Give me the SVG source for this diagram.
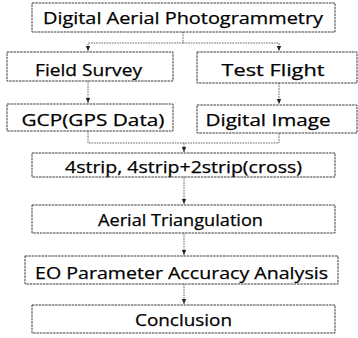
<svg xmlns="http://www.w3.org/2000/svg" width="358" height="338" viewBox="0 0 358 338">
  <style>
    .box { fill: #ffffff; stroke: #3a3a3a; stroke-width: 1; stroke-dasharray: 2.5 0.8; }
    .lbl { font-family: "Open Sans", "Noto Sans", sans-serif; font-size: 17px; fill: #000000; text-anchor: middle; stroke: #000000; stroke-width: 0.25; }
    .wire { fill: none; stroke: #555555; stroke-width: 0.9; stroke-dasharray: 1.6 1; }
  </style>
  <defs>
    <marker id="arrow" markerWidth="6" markerHeight="6" refX="5" refY="3" orient="auto" markerUnits="userSpaceOnUse">
      <path d="M0,0.8 L5,3 L0,5.2 Z" fill="#222222"/>
    </marker>
  </defs>
  <rect width="358" height="338" fill="#ffffff"/>

  <!-- connectors -->
  <g id="connectors">
    <path class="wire" d="M183,32 V43 H88 V51" marker-end="url(#arrow)"/>
    <path class="wire" d="M183,43 H279 V51" marker-end="url(#arrow)"/>
    <path class="wire" d="M88,81 V103" marker-end="url(#arrow)"/>
    <path class="wire" d="M279,83 V104" marker-end="url(#arrow)"/>
    <path class="wire" d="M88,131 V143 H279 V133"/>
    <path class="wire" d="M184,143 V152" marker-end="url(#arrow)"/>
    <path class="wire" d="M184,177 V204" marker-end="url(#arrow)"/>
    <path class="wire" d="M184,233 V255" marker-end="url(#arrow)"/>
    <path class="wire" d="M184,284 V304" marker-end="url(#arrow)"/>
  </g>

  <g id="photogrammetry">
    <rect class="box" x="32" y="3" width="303" height="29"/>
    <text class="lbl" x="183" y="24" textLength="280" lengthAdjust="spacingAndGlyphs">Digital Aerial Photogrammetry</text>
  </g>

  <g id="field-survey">
    <rect class="box" x="7" y="52" width="166" height="29"/>
    <text class="lbl" x="88.5" y="76" textLength="107" lengthAdjust="spacingAndGlyphs">Field Survey</text>
  </g>

  <g id="test-flight">
    <rect class="box" x="197" y="52" width="160" height="31"/>
    <text class="lbl" x="273" y="76" textLength="103" lengthAdjust="spacingAndGlyphs">Test Flight</text>
  </g>

  <g id="gcp">
    <rect class="box" x="7" y="104" width="166" height="27"/>
    <text class="lbl" x="93" y="126" textLength="143" lengthAdjust="spacingAndGlyphs">GCP(GPS Data)</text>
  </g>

  <g id="digital-image">
    <rect class="box" x="197" y="105" width="160" height="28"/>
    <text class="lbl" x="268" y="126" textLength="125" lengthAdjust="spacingAndGlyphs">Digital Image</text>
  </g>

  <g id="strips">
    <rect class="box" x="32" y="153" width="303" height="24"/>
    <text class="lbl" x="183.5" y="173" textLength="237" lengthAdjust="spacingAndGlyphs">4strip, 4strip+2strip(cross)</text>
  </g>

  <g id="triangulation">
    <rect class="box" x="32" y="205" width="303" height="28"/>
    <text class="lbl" x="180.5" y="226" textLength="165" lengthAdjust="spacingAndGlyphs">Aerial Triangulation</text>
  </g>

  <g id="eo-analysis">
    <rect class="box" x="25" y="256" width="313" height="28"/>
    <text class="lbl" x="181.5" y="279" textLength="293" lengthAdjust="spacingAndGlyphs">EO Parameter Accuracy Analysis</text>
  </g>

  <g id="conclusion">
    <rect class="box" x="32" y="305" width="303" height="28"/>
    <text class="lbl" x="183.5" y="326" textLength="97" lengthAdjust="spacingAndGlyphs">Conclusion</text>
  </g>
</svg>
